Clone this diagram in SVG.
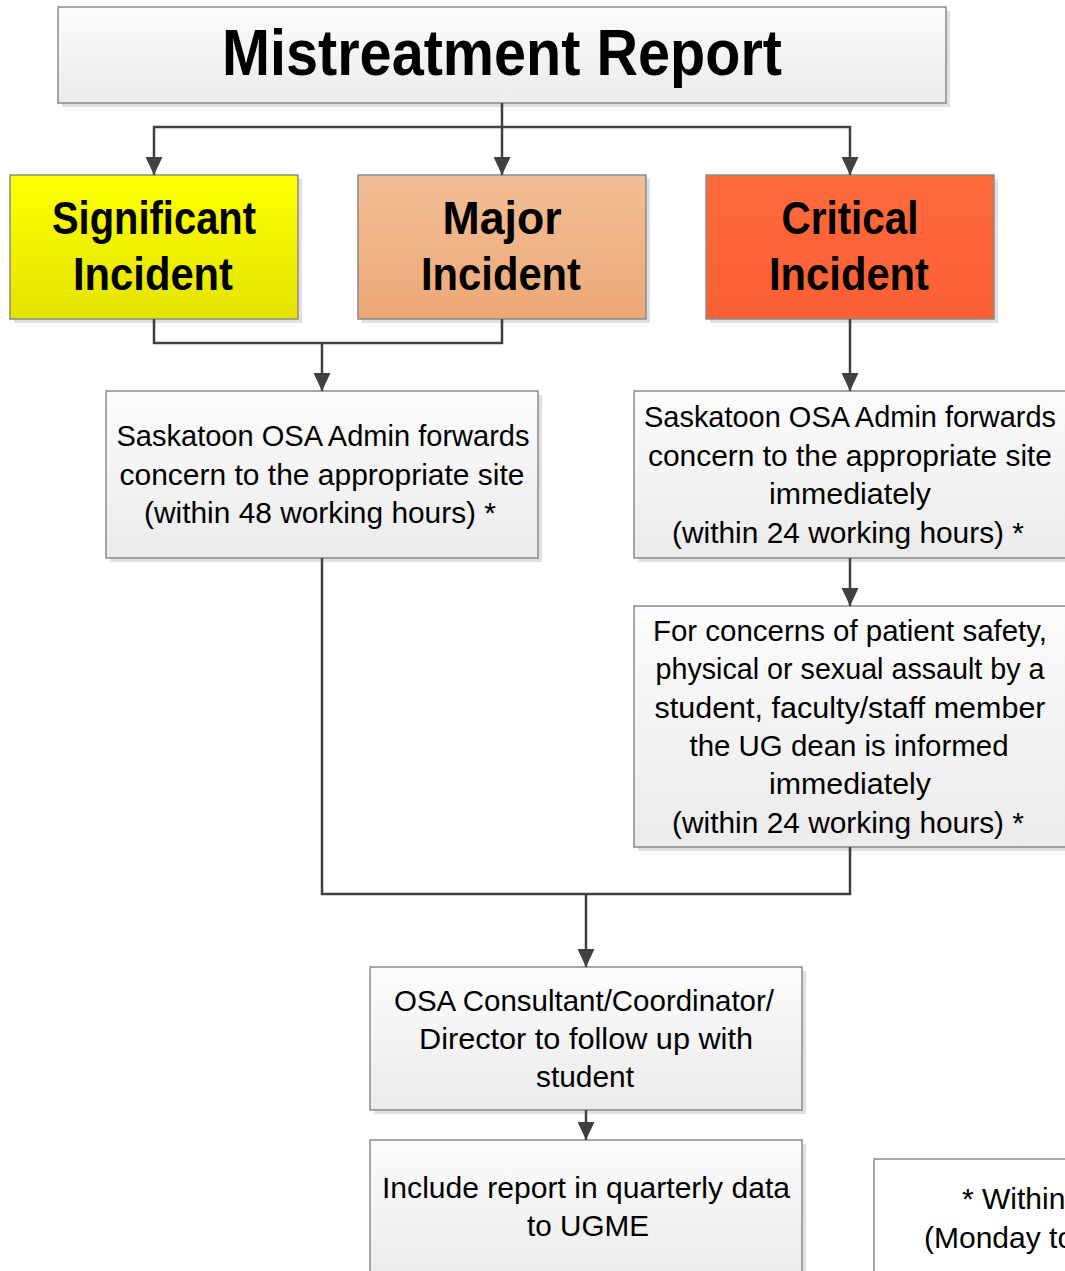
<svg xmlns="http://www.w3.org/2000/svg" width="1065" height="1271" viewBox="0 0 1065 1271">
<defs>
<linearGradient id="gGray" x1="0" y1="0" x2="0" y2="1"><stop offset="0" stop-color="#fcfcfc"/><stop offset="1" stop-color="#ebebeb"/></linearGradient>
<linearGradient id="gYel" x1="0" y1="0" x2="0" y2="1"><stop offset="0" stop-color="#ffff00"/><stop offset="1" stop-color="#e3e300"/></linearGradient>
<linearGradient id="gMaj" x1="0" y1="0" x2="0" y2="1"><stop offset="0" stop-color="#f2be95"/><stop offset="1" stop-color="#eca877"/></linearGradient>
<linearGradient id="gCrit" x1="0" y1="0" x2="0" y2="1"><stop offset="0" stop-color="#ff6a3b"/><stop offset="1" stop-color="#fb5f35"/></linearGradient>
<marker id="arr" viewBox="0 0 18 17" refX="18" refY="8.5" markerWidth="18" markerHeight="17" markerUnits="userSpaceOnUse" orient="auto">
<path d="M0,0 L18,8.5 L0,17 Z" fill="#404040"/>
</marker>
</defs>
<style>
.shadow{fill:#e0e0e0}
.box{stroke:#8a8a8a;stroke-width:1.5}
.t{font-family:"Liberation Sans",Arial,sans-serif;font-size:30px;fill:#000;text-anchor:middle}
.b{font-family:"Liberation Sans",Arial,sans-serif;font-weight:bold;font-size:46px;fill:#000;text-anchor:middle}
.c{fill:none;stroke:#404040;stroke-width:2.5}
</style>

<g id="title">
<rect class="shadow" x="62" y="11" width="888" height="96"/>
<rect class="box" x="58" y="7" width="888" height="96" fill="url(#gGray)"/>
<text x="502" y="75" font-family="'Liberation Sans',Arial,sans-serif" font-weight="bold" font-size="64" text-anchor="middle" textLength="560" lengthAdjust="spacingAndGlyphs">Mistreatment Report</text>
</g>

<g id="significant">
<rect class="shadow" x="14" y="179" width="288" height="144"/>
<rect class="box" x="10" y="175" width="288" height="144" fill="url(#gYel)"/>
<text class="b" x="154" y="234" textLength="204" lengthAdjust="spacingAndGlyphs">Significant</text>
<text class="b" x="153" y="290" textLength="160" lengthAdjust="spacingAndGlyphs">Incident</text>
</g>

<g id="major">
<rect class="shadow" x="362" y="179" width="288" height="144"/>
<rect class="box" x="358" y="175" width="288" height="144" fill="url(#gMaj)"/>
<text class="b" x="502" y="234" textLength="119" lengthAdjust="spacingAndGlyphs">Major</text>
<text class="b" x="501" y="290" textLength="160" lengthAdjust="spacingAndGlyphs">Incident</text>
</g>

<g id="critical">
<rect class="shadow" x="710" y="179" width="288" height="144"/>
<rect class="box" x="706" y="175" width="288" height="144" fill="url(#gCrit)"/>
<text class="b" x="850" y="234" textLength="137" lengthAdjust="spacingAndGlyphs">Critical</text>
<text class="b" x="849" y="290" textLength="160" lengthAdjust="spacingAndGlyphs">Incident</text>
</g>

<g id="forward48">
<rect class="shadow" x="110" y="395" width="432" height="167"/>
<rect class="box" x="106" y="391" width="432" height="167" fill="url(#gGray)"/>
<text class="t" x="323" y="446" textLength="413" lengthAdjust="spacingAndGlyphs">Saskatoon OSA Admin forwards</text>
<text class="t" x="322" y="485" textLength="405" lengthAdjust="spacingAndGlyphs">concern to the appropriate site</text>
<text class="t" x="320" y="523" textLength="352" lengthAdjust="spacingAndGlyphs">(within 48 working hours) *</text>
</g>

<g id="forward24">
<rect class="shadow" x="638" y="395" width="432" height="167"/>
<rect class="box" x="634" y="391" width="432" height="167" fill="url(#gGray)"/>
<text class="t" x="850" y="427" font-size="29" textLength="412" lengthAdjust="spacingAndGlyphs">Saskatoon OSA Admin forwards</text>
<text class="t" x="850" y="466" textLength="404" lengthAdjust="spacingAndGlyphs">concern to the appropriate site</text>
<text class="t" x="850" y="504" textLength="162" lengthAdjust="spacingAndGlyphs">immediately</text>
<text class="t" x="848" y="543" textLength="352" lengthAdjust="spacingAndGlyphs">(within 24 working hours) *</text>
</g>

<g id="dean">
<rect class="shadow" x="638" y="610" width="432" height="241"/>
<rect class="box" x="634" y="606" width="432" height="241" fill="url(#gGray)"/>
<text class="t" x="850" y="641" textLength="394" lengthAdjust="spacingAndGlyphs">For concerns of patient safety,</text>
<text class="t" x="850" y="679" textLength="389" lengthAdjust="spacingAndGlyphs">physical or sexual assault by a</text>
<text class="t" x="850" y="718" textLength="391" lengthAdjust="spacingAndGlyphs">student, faculty/staff member</text>
<text class="t" x="849" y="756" textLength="319" lengthAdjust="spacingAndGlyphs">the UG dean is informed</text>
<text class="t" x="850" y="794" textLength="162" lengthAdjust="spacingAndGlyphs">immediately</text>
<text class="t" x="848" y="833" textLength="352" lengthAdjust="spacingAndGlyphs">(within 24 working hours) *</text>
</g>

<g id="followup">
<rect class="shadow" x="374" y="971" width="432" height="143"/>
<rect class="box" x="370" y="967" width="432" height="143" fill="url(#gGray)"/>
<text class="t" x="584" y="1011" textLength="380" lengthAdjust="spacingAndGlyphs">OSA Consultant/Coordinator/</text>
<text class="t" x="586" y="1049" textLength="334" lengthAdjust="spacingAndGlyphs">Director to follow up with</text>
<text class="t" x="585" y="1087" textLength="98" lengthAdjust="spacingAndGlyphs">student</text>
</g>

<g id="quarterly">
<rect class="shadow" x="374" y="1144" width="432" height="140"/>
<rect class="box" x="370" y="1140" width="432" height="140" fill="url(#gGray)"/>
<text class="t" x="586" y="1198" textLength="408" lengthAdjust="spacingAndGlyphs">Include report in quarterly data</text>
<text class="t" x="588" y="1236" textLength="122" lengthAdjust="spacingAndGlyphs">to UGME</text>
</g>

<g id="note">
<rect class="shadow" x="878" y="1163" width="200" height="120"/>
<rect class="box" x="874" y="1159" width="200" height="120" fill="#ffffff"/>
<text x="962" y="1209" font-family="'Liberation Sans',Arial,sans-serif" font-size="30">* Within</text>
<text x="924" y="1248" font-family="'Liberation Sans',Arial,sans-serif" font-size="30">(Monday to</text>
</g>

<g id="connectors">
<path class="c" d="M502,103 V127"/>
<path class="c" d="M502,127 H154 V175" marker-end="url(#arr)"/>
<path class="c" d="M502,127 V175" marker-end="url(#arr)"/>
<path class="c" d="M502,127 H850 V175" marker-end="url(#arr)"/>
<path class="c" d="M154,319 V343 H502 V319"/>
<path class="c" d="M322,343 V391" marker-end="url(#arr)"/>
<path class="c" d="M850,319 V391" marker-end="url(#arr)"/>
<path class="c" d="M850,558 V606" marker-end="url(#arr)"/>
<path class="c" d="M322,558 V894 H850 V847"/>
<path class="c" d="M586,894 V967" marker-end="url(#arr)"/>
<path class="c" d="M586,1110 V1140" marker-end="url(#arr)"/>
</g>
</svg>
